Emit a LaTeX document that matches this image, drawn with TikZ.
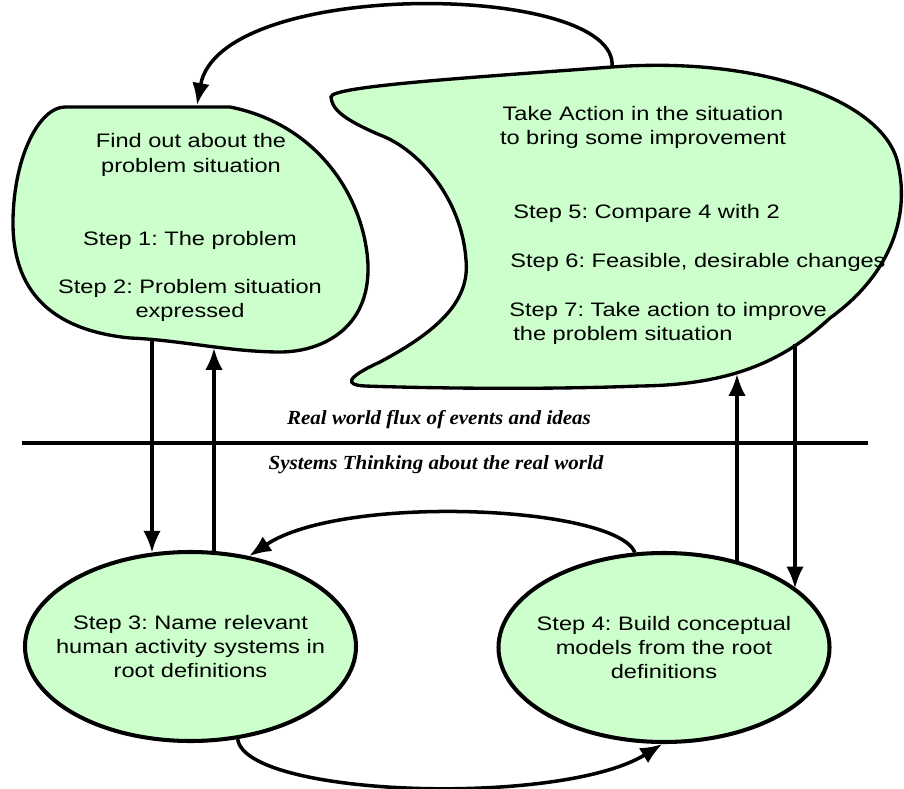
\documentclass[tikz,border=0pt]{standalone}
\usepackage{fontspec}
\setmainfont{Liberation Sans}[FakeStretch=1.21]
\newfontfamily\fluxfont{Liberation Serif}[FakeStretch=1.05]
\usetikzlibrary{arrows.meta,shapes.geometric}
\definecolor{blobgreen}{HTML}{CCFFCC}
\frenchspacing
\tikzset{
	blob/.style={draw, line width=1.9pt, fill=blobgreen},
	stepellipse/.style={ellipse, draw, line width=2.3pt, fill=blobgreen, minimum width=6.62cm, minimum height=3.78cm, inner sep=0pt},
	steptext/.style={align=center, inner sep=0pt, font=\fontsize{11.1}{13.8}\selectfont},
	stepleft/.style={align=left, anchor=west, inner sep=0pt, font=\fontsize{11.1}{13.8}\selectfont},
	fluxtext/.style={inner sep=0pt, font=\fluxfont\fontsize{11.4}{13}\selectfont\bfseries\itshape},
	flow/.style={-{Latex[length=12.5pt,width=10pt]}, line width=2pt}
}

\begin{document}
\begin{tikzpicture}
		\useasboundingbox (0,0) rectangle (18.08,15.76);

		\draw[blob] (1.30,13.62) -- (4.60,13.62)
			.. controls (6.40,13.26) and (7.30,11.76) .. (7.36,10.46)
			.. controls (7.40,9.16) and (6.40,8.72) .. (5.60,8.72)
			.. controls (4.60,8.72) and (3.60,8.96) .. (2.60,9.00)
			.. controls (1.00,9.16) and (0.24,9.96) .. (0.26,11.36)
			.. controls (0.28,12.66) and (0.80,13.62) .. (1.30,13.62) -- cycle;
		\draw[blob] (6.62,13.82)
			.. controls (6.60,14.04) and (9.60,14.22) .. (12.24,14.42)
			.. controls (15.20,14.64) and (17.60,13.76) .. (17.94,12.56)
			.. controls (18.22,11.50) and (17.85,10.30) .. (16.60,9.40)
			.. controls (15.80,8.66) and (14.80,8.06) .. (12.80,8.04)
			.. controls (10.80,7.96) and (8.40,8.00) .. (7.30,8.04)
			.. controls (6.90,8.06) and (6.90,8.20) .. (7.60,8.52)
			.. controls (8.80,9.16) and (9.40,9.76) .. (9.32,10.56)
			.. controls (9.24,11.76) and (8.40,12.76) .. (7.60,13.06)
			.. controls (6.80,13.40) and (6.64,13.60) .. (6.62,13.82) -- cycle;

		\coordinate (actiontop) at (12.24,14.42);
		\coordinate (findtop) at (3.94,13.66);
		\coordinate (finddown) at (3.04,8.97);
		\coordinate (findup) at (4.28,8.80);
		\coordinate (actionup) at (14.74,8.28);
		\coordinate (actiondown) at (15.90,8.88);

		\node[stepellipse] (step3) at (3.81,2.83) {};
		\node[stepellipse] (step4) at (13.28,2.81) {};

		\draw[line width=2.3pt] (0.44,6.90) -- (17.36,6.90);

		\draw[flow] (finddown) -- (finddown |- step3.113);
		\draw[flow] (step3.76 -| findup) -- (findup);
		\draw[flow] (step4.49 -| actionup) -- (actionup);
		\draw[flow] (actiondown) -- (actiondown |- step4.24);

		\draw[flow] (actiontop) .. controls +(0.16,1.70) and +(0.46,2.56) .. (findtop);
		\draw[flow] (step4.107) .. controls +(-0.40,0.94) and +(1.86,1.25) .. (step3.57);
		\draw[flow] (step3.-63) .. controls +(0.16,-1.16) and +(-2.04,-1.26) .. (step4.-91);

		\node[steptext] (findout) at (3.82,12.66) {Find out about the\\problem situation};
		\node[steptext] (step1) at (3.80,10.96) {Step 1: The problem};
		\node[steptext] (step2) at (3.80,9.75) {Step 2: Problem situation\\expressed};

		\node[steptext] (action) at (12.86,13.21) {Take Action in the situation\\to bring some improvement};
		\node[stepleft] (step5) at (10.26,11.50) {Step 5: Compare 4 with 2};
		\node[stepleft] (step6) at (10.20,10.52) {Step 6: Feasible, desirable changes};
		\node[stepleft] (step7) at (10.18,9.29) {Step 7: Take action to improve\\\hspace*{0.08cm}the problem situation};

		\node[fluxtext] (realworld) at (8.78,7.36) {Real world flux of events and ideas};
		\node[fluxtext] (systems) at (8.72,6.47) {Systems Thinking about the real world};

		\node[steptext] (step3text) at (step3) {Step 3: Name relevant\\human activity systems in\\root definitions};
		\node[steptext] (step4text) at (step4) {Step 4: Build conceptual\\models from the root\\definitions};
	\end{tikzpicture}
\end{document}
